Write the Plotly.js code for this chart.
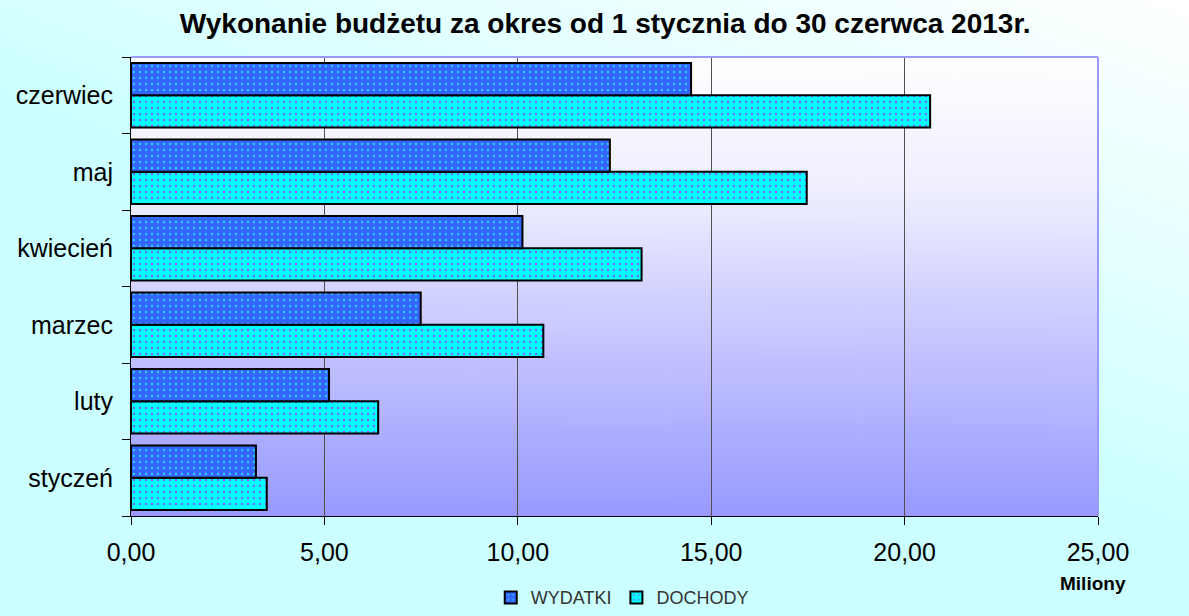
<!DOCTYPE html>
<html>
<head>
<meta charset="utf-8">
<script src="https://cdn.plot.ly/plotly-3.0.1.min.js"></script>
<style>
html,body{margin:0;padding:0;}
#chart{width:1189px;height:616px;background:linear-gradient(200deg,#ffffff 0%,#e6ffff 25%,#ccffff 50%,#ccffff 100%);}
</style>
</head>
<body>
<div id="chart"></div>
<script>
const months = ['styczeń','luty','marzec','kwiecień','maj','czerwiec'];
const wydatki = [3.23, 5.12, 7.49, 10.12, 12.38, 14.48];
const dochody = [3.51, 6.39, 10.66, 13.20, 17.47, 20.66];
const xTicks = [0, 5, 10, 15, 20, 25];

// gradient image for plot area background
const cv = document.createElement('canvas');
cv.width = 10; cv.height = 460;
const ctx = cv.getContext('2d');
const g = ctx.createLinearGradient(0, 0, 0, 460);
g.addColorStop(0, '#ffffff');
g.addColorStop(0.3, '#eeeeff');
g.addColorStop(0.6, '#c8c8ff');
g.addColorStop(1, '#9999ff');
ctx.fillStyle = g;
ctx.fillRect(0, 0, 10, 460);
const bgURL = cv.toDataURL();

const traces = [
  {
    type: 'bar', orientation: 'h', name: 'DOCHODY',
    y: months, x: dochody,
    marker: {color: '#00ffff', line: {color: '#000000', width: 2},
      pattern: {shape: '.', fgcolor: '#6a6aff', bgcolor: '#00ffff', size: 6, solidity: 0.12}},
    hoverinfo: 'x+name'
  },
  {
    type: 'bar', orientation: 'h', name: 'WYDATKI',
    y: months, x: wydatki,
    marker: {color: '#3366ff', line: {color: '#000000', width: 2},
      pattern: {shape: '.', fgcolor: '#33ccff', bgcolor: '#3366ff', size: 6, solidity: 0.12}},
    hoverinfo: 'x+name'
  }
];

const layout = {
  width: 1189, height: 616,
  paper_bgcolor: 'rgba(0,0,0,0)',
  plot_bgcolor: 'rgba(0,0,0,0)',
  margin: {l: 131, r: 91, t: 57, b: 100, autoexpand: false},
  separators: ', ',
  font: {family: 'Arial, "Liberation Sans", sans-serif', color: '#000'},
  title: {text: '<b>Wykonanie budżetu za okres od 1 stycznia do 30 czerwca 2013r.</b>',
    x: 0.509, xanchor: 'center', y: 0.962, yanchor: 'middle',
    font: {size: 28, color: '#000', family: 'Arial, "Liberation Sans", sans-serif'}},
  barmode: 'group',
  bargap: 0.16,
  bargroupgap: 0,
  xaxis: {
    range: [0, 25], tickvals: xTicks, tickformat: '.2f',
    showgrid: true, gridcolor: '#505050', gridwidth: 1.3,
    zeroline: false, showline: true, linecolor: '#000', linewidth: 1,
    ticks: 'outside', ticklen: 8, tickcolor: '#000',
    tickfont: {size: 25, color: '#000'}, ticklabelstandoff: 6, fixedrange: true
  },
  yaxis: {
    type: 'category', categoryorder: 'array', categoryarray: months,
    showgrid: false, zeroline: false, showline: true, linecolor: '#000', linewidth: 1,
    ticks: 'outside', tickson: 'boundaries', ticklen: 8, tickcolor: '#000',
    tickfont: {size: 25, color: '#000'}, ticklabelstandoff: 12, fixedrange: true
  },
  legend: {
    orientation: 'h', traceorder: 'reversed',
    x: 0.508, xanchor: 'center', y: -0.178, yanchor: 'middle',
    font: {size: 18, color: '#333333'}, bgcolor: 'rgba(0,0,0,0)',
    itemwidth: 30
  },
  images: [{source: bgURL, xref: 'paper', yref: 'paper', x: 0, y: 1,
    sizex: 1, sizey: 1, sizing: 'stretch', layer: 'below'}],
  shapes: [
    {type: 'line', xref: 'paper', yref: 'paper', x0: 0, x1: 1, y0: 1, y1: 1,
      line: {color: '#9999ff', width: 2}, layer: 'above'},
    {type: 'line', xref: 'paper', yref: 'paper', x0: 1, x1: 1, y0: 0, y1: 1,
      line: {color: '#9999ff', width: 2}, layer: 'above'}
  ],
  annotations: [
    {text: '<b>Miliony</b>', xref: 'paper', yref: 'paper', x: 0.995, y: -0.146,
      xanchor: 'center', yanchor: 'middle', showarrow: false,
      font: {size: 19, color: '#000'}}
  ]
};

Plotly.newPlot('chart', traces, layout, {displayModeBar: false, staticPlot: true});
</script>
</body>
</html>
